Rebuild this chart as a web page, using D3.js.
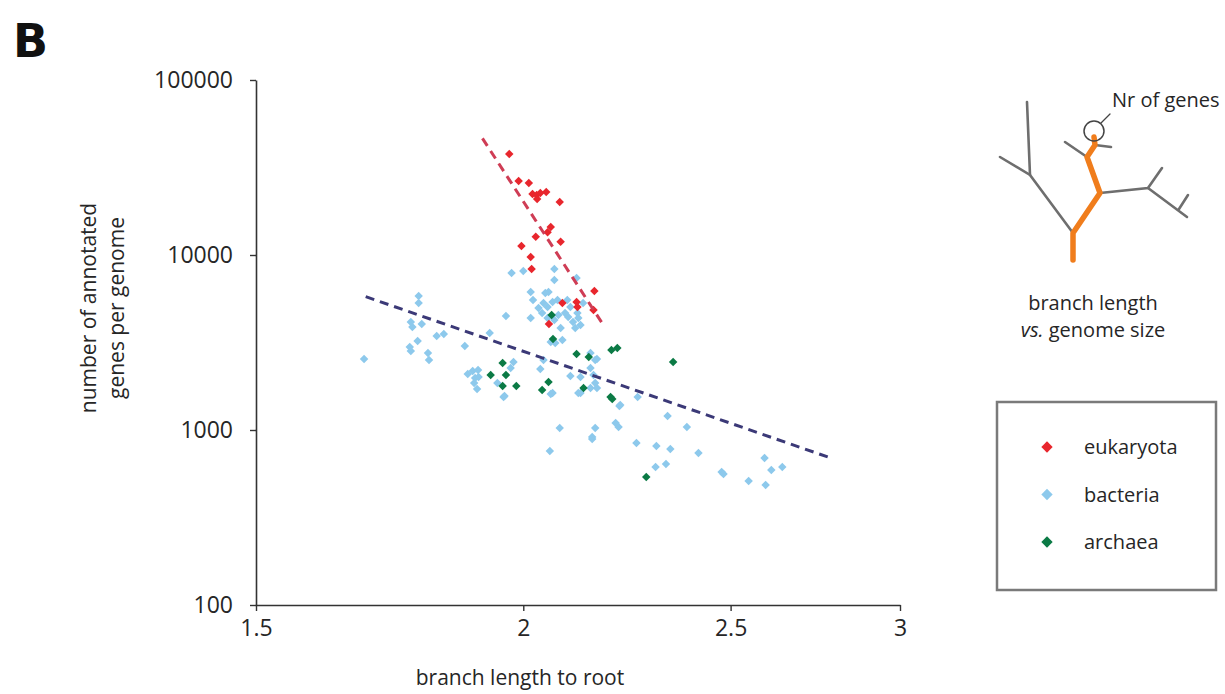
<!DOCTYPE html>
<html>
<head>
<meta charset="utf-8">
<script src="https://cdn.jsdelivr.net/npm/d3@7"></script>
<style>
  body { margin: 0; background: #fff; }
  svg { display: block; font-family: "Open Sans", sans-serif; }
</style>
</head>
<body>
<svg id="chart" width="1225" height="694"></svg>
<script>
// each point: [branch length to root, number of annotated genes]
const eukaryota = [
  [1.97, 37800], [1.99, 26500], [2.012, 25800], [2.02, 22300], [2.029, 22000],
  [2.037, 22600], [2.05, 22900], [2.03, 20900], [2.08, 20100], [2.06, 14450],
  [2.053, 13500], [2.027, 12700], [2.082, 11900], [1.996, 11260], [2.016, 9740],
  [2.018, 8320], [2.159, 6230], [2.086, 5320], [2.118, 5390], [2.12, 5045],
  [2.157, 4850], [2.056, 4030]
];

const bacteria = [
  [1.685, 2545], [1.787, 5830], [1.787, 5317], [1.772, 4140], [1.775, 3879],
  [1.793, 4034], [1.785, 3226], [1.77, 2979], [1.772, 2828], [1.822, 3444],
  [1.836, 3537], [1.805, 2754], [1.807, 2512], [1.878, 3020], [1.929, 3582],
  [1.963, 4481], [1.884, 2089], [1.894, 2174], [1.905, 2203], [1.899, 1982],
  [1.897, 1856], [1.903, 1715], [1.906, 2009], [1.958, 1544], [1.979, 2447],
  [1.973, 2260], [1.945, 1856],
  [1.975, 7890], [2.0, 8100], [2.068, 8318], [2.068, 7196], [2.016, 6146],
  [2.021, 5534], [2.055, 6146], [2.016, 4365], [2.118, 7392],
  [2.044, 5317], [2.053, 5045], [2.064, 5390], [2.041, 4663], [2.053, 4365],
  [2.068, 4252], [2.077, 4540], [2.092, 4663], [2.104, 5045], [2.099, 4426],
  [2.11, 4141], [2.122, 4365], [2.12, 4663], [2.127, 3981], [2.133, 5317],
  [2.082, 3828], [2.115, 3828], [2.048, 6067], [2.075, 5534], [2.097, 5534],
  [2.033, 4977],
  [2.086, 3268], [2.07, 3142], [2.06, 3184], [2.037, 2232], [2.044, 2512],
  [2.165, 2545], [2.15, 2260], [2.157, 2061], [2.161, 1856], [2.15, 1738],
  [2.104, 2035], [2.127, 2009], [2.064, 1626], [1.96, 1563], [2.262, 1544],
  [2.22, 1390], [2.15, 2754], [2.161, 2512], [2.218, 1371], [2.209, 1096],
  [2.216, 1040], [2.161, 1026], [2.154, 912], [2.154, 889], [2.259, 843],
  [2.336, 1202], [2.385, 1040], [2.308, 810], [2.343, 779], [2.306, 615],
  [2.332, 639], [2.415, 739], [2.058, 759], [2.08, 1026], [2.127, 1626],
  [2.165, 1738], [2.122, 1626], [2.06, 1606],
  [2.476, 575], [2.481, 561], [2.549, 511], [2.593, 692], [2.612, 591],
  [2.596, 485], [2.643, 615]
];

const archaea = [
  [2.062, 4540], [2.065, 3311], [2.118, 2719], [2.146, 2613], [2.199, 2865],
  [2.213, 2942], [2.35, 2447], [1.956, 2415], [1.963, 2061], [1.931, 2061],
  [1.956, 1784], [1.985, 1784], [2.055, 1880], [2.041, 1693], [2.134, 1738],
  [2.197, 1544], [2.201, 1503], [2.283, 539]
];

// trend lines, start and end point
const eukaryotaFit = [[1.914, 46400], [2.18, 3980]];
const overallFit = [[1.688, 5780], [2.777, 700]];

const xTicks = [1.5, 2, 2.5, 3];
const yTicks = [100, 1000, 10000, 100000];

const legendNames = ["eukaryota", "bacteria", "archaea"];
const colors = { eukaryota: "#e8262d", bacteria: "#8dc9ec", archaea: "#0b7a45" };
const textColor = "#262626";

const svg = d3.select("#chart");
svg.append("rect").attr("width", 1225).attr("height", 694).attr("fill", "#fff");

const x = d3.scaleLog().domain([1.5, 3]).range([256, 900]);
const y = d3.scaleLog().domain([100, 100000]).range([605, 80]);

// panel letter
svg.append("text")
  .attr("x", 13).attr("y", 57)
  .attr("font-family", "DejaVu Sans, sans-serif")
  .attr("font-weight", "bold")
  .attr("font-size", 46)
  .attr("fill", "#111")
  .text("B");

// axes
const xAxis = svg.append("g")
  .attr("transform", "translate(0,605)")
  .call(d3.axisBottom(x).tickValues(xTicks).tickFormat(d3.format(""))
    .tickSize(6).tickSizeOuter(0).tickPadding(9));

const yAxis = svg.append("g")
  .attr("transform", "translate(256,0)")
  .call(d3.axisLeft(y).tickValues(yTicks).tickFormat(d3.format("d"))
    .tickSize(6).tickSizeOuter(0).tickPadding(17));

[xAxis, yAxis].forEach((g) => {
  g.select(".domain").attr("stroke", "#333").attr("stroke-width", 1.6);
  g.selectAll(".tick line").attr("stroke", "#333").attr("stroke-width", 1.4);
  g.selectAll(".tick text")
    .attr("font-family", "Open Sans, sans-serif")
    .attr("font-size", 23)
    .attr("fill", textColor);
});

svg.append("text")
  .attr("x", 520).attr("y", 685)
  .attr("text-anchor", "middle")
  .attr("font-size", 21)
  .attr("fill", textColor)
  .text("branch length to root");

const yTitle = svg.append("text")
  .attr("transform", "translate(0,308) rotate(-90)")
  .attr("text-anchor", "middle")
  .attr("font-size", 21)
  .attr("fill", textColor);
yTitle.append("tspan").attr("x", 0).attr("y", 96).text("number of annotated");
yTitle.append("tspan").attr("x", 0).attr("y", 124).text("genes per genome");

// points (rotated squares)
const marker = d3.symbol().type(d3.symbolSquare).size(36);
["bacteria", "archaea", "eukaryota"].forEach((name) => {
  const data = name === "bacteria" ? bacteria : name === "archaea" ? archaea : eukaryota;
  svg.append("g")
    .selectAll("path")
    .data(data)
    .join("path")
    .attr("d", marker)
    .attr("transform", (d) => `translate(${x(d[0])},${y(d[1])}) rotate(45)`)
    .attr("fill", colors[name]);
});

// dashed trend lines
const line = d3.line().x((d) => x(d[0])).y((d) => y(d[1]));
svg.append("path")
  .datum(eukaryotaFit)
  .attr("d", line)
  .attr("fill", "none")
  .attr("stroke", "#cf3d55")
  .attr("stroke-width", 3)
  .attr("stroke-dasharray", "9,6");
svg.append("path")
  .datum(overallFit)
  .attr("d", line)
  .attr("fill", "none")
  .attr("stroke", "#3b3977")
  .attr("stroke-width", 3)
  .attr("stroke-dasharray", "9,6");

// little tree sketch on the right
const tree = svg.append("g").attr("fill", "none").attr("stroke-linecap", "round");
const grayBranches = [
  [[1027, 102], [1030, 175]],
  [[1000, 157], [1030, 175], [1073, 233]],
  [[1065, 142], [1087, 157]],
  [[1095, 145], [1111, 147]],
  [[1100, 193], [1148, 188], [1162, 168]],
  [[1148, 188], [1187, 217]],
  [[1179, 209], [1188, 195]]
];
const orangePath = [[1073, 260], [1073, 233], [1100, 193], [1087, 157], [1095, 145], [1094, 137]];
const pathLine = d3.line();
tree.selectAll(".gray")
  .data(grayBranches)
  .join("path")
  .attr("d", pathLine)
  .attr("stroke", "#6e6e6e")
  .attr("stroke-width", 2.6);
tree.append("path")
  .attr("d", pathLine(orangePath))
  .attr("stroke", "#f07d1c")
  .attr("stroke-width", 5.5)
  .attr("stroke-linejoin", "round");
tree.append("circle")
  .attr("cx", 1094).attr("cy", 131).attr("r", 10)
  .attr("stroke", "#444").attr("stroke-width", 1.5);
tree.append("path")
  .attr("d", pathLine([[1101, 123], [1110, 114]]))
  .attr("stroke", "#444").attr("stroke-width", 1.3);

svg.append("text")
  .attr("x", 1112).attr("y", 107)
  .attr("font-size", 20).attr("fill", textColor)
  .text("Nr of genes");
svg.append("text")
  .attr("x", 1093).attr("y", 310)
  .attr("text-anchor", "middle")
  .attr("font-size", 20).attr("fill", textColor)
  .text("branch length");
const vs = svg.append("text")
  .attr("x", 1093).attr("y", 337)
  .attr("text-anchor", "middle")
  .attr("font-size", 20).attr("fill", textColor);
vs.append("tspan").attr("font-style", "italic").text("vs.");
vs.append("tspan").text(" genome size");

// legend
const legend = svg.append("g");
legend.append("rect")
  .attr("x", 997).attr("y", 402)
  .attr("width", 219).attr("height", 188)
  .attr("fill", "#fff")
  .attr("stroke", "#7a7a7a")
  .attr("stroke-width", 2.5);
const legendRow = d3.scalePoint().domain(legendNames).range([447, 542]);
const legendMarker = d3.symbol().type(d3.symbolSquare).size(64);
const items = legend.selectAll(".item")
  .data(legendNames)
  .join("g")
  .attr("transform", (d) => `translate(1047,${legendRow(d)})`);
items.append("path")
  .attr("d", legendMarker)
  .attr("transform", "rotate(45)")
  .attr("fill", (d) => colors[d]);
items.append("text")
  .attr("x", 37).attr("dy", "0.35em")
  .attr("font-size", 20).attr("fill", textColor)
  .text((d) => d);
</script>
</body>
</html>
